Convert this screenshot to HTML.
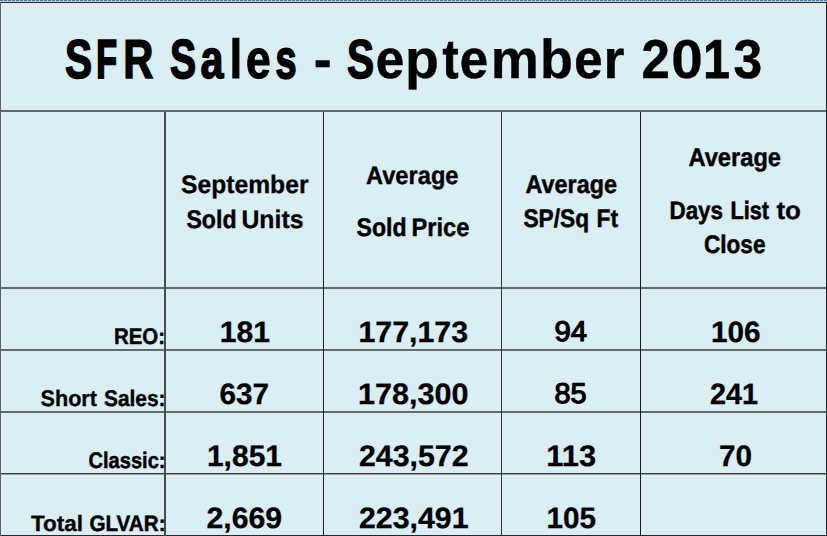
<!DOCTYPE html><html><head><meta charset="utf-8"><style>html,body{margin:0;padding:0;background:#daeef3;overflow:hidden}svg{display:block}text{font-family:"Liberation Sans",sans-serif;font-weight:bold;fill:#000;text-rendering:geometricPrecision}</style></head><body>
<svg width="827" height="536" viewBox="0 0 827 536">
<rect x="0" y="0" width="827" height="536" fill="#daeef3"/>
<rect x="0" y="0" width="827" height="1" fill="#c9d3dc"/>
<line x1="0" y1="0.5" x2="827" y2="0.5" stroke="#4a78a8" stroke-width="1" stroke-dasharray="3 1"/>
<rect x="0" y="1" width="827" height="1" fill="#c8c8c4"/>
<rect x="0" y="2" width="827" height="1" fill="#262a2c"/>
<rect x="0" y="110" width="827" height="2" fill="#5f6769"/>
<rect x="0" y="287" width="827" height="2" fill="#5f6769"/>
<rect x="0" y="349" width="827" height="2" fill="#626b6b"/>
<rect x="0" y="411" width="827" height="2" fill="#626b6b"/>
<rect x="0" y="473" width="827" height="1" fill="#3a3d3d"/>
<rect x="0" y="474" width="827" height="1" fill="#9aa4a6"/>
<rect x="0" y="535" width="827" height="1" fill="#23272a"/>
<rect x="164" y="112" width="2" height="424" fill="#454c4e"/>
<rect x="323" y="112" width="1" height="424" fill="#1e2224"/>
<rect x="501" y="112" width="1" height="424" fill="#2f3537"/>
<rect x="640" y="112" width="1" height="424" fill="#151819"/>
<rect x="0" y="2" width="1" height="534" fill="#5a6367"/>
<rect x="826" y="2" width="1" height="534" fill="#22282a"/>
<text x="64.94" y="78.30" font-size="54.84" stroke="#000" stroke-width="1.55"  textLength="27.14" lengthAdjust="spacingAndGlyphs">S</text>
<text x="96.35" y="78.30" font-size="54.84" stroke="#000" stroke-width="2.23"  textLength="20.73" lengthAdjust="spacingAndGlyphs">F</text>
<text x="123.37" y="78.30" font-size="54.84" stroke="#000" stroke-width="1.45"  textLength="30.13" lengthAdjust="spacingAndGlyphs">R</text>
<text x="169.97" y="78.30" font-size="54.84" stroke="#000" stroke-width="1.70"  textLength="26.11" lengthAdjust="spacingAndGlyphs">S</text>
<text x="200.50" y="78.30" font-size="54.84" stroke="#000" stroke-width="1.48"  textLength="23.00" lengthAdjust="spacingAndGlyphs">a</text>
<text x="229.74" y="78.30" font-size="54.84" stroke="#000" stroke-width="1.18"  textLength="12.34" lengthAdjust="spacingAndGlyphs">l</text>
<text x="245.92" y="78.30" font-size="54.84" stroke="#000" stroke-width="1.18"  textLength="24.67" lengthAdjust="spacingAndGlyphs">e</text>
<text x="275.46" y="78.30" font-size="54.84" stroke="#000" stroke-width="1.83"  textLength="21.05" lengthAdjust="spacingAndGlyphs">s</text>
<text x="313.73" y="78.30" font-size="54.84" stroke="#000" stroke-width="0.30"  textLength="18.01" lengthAdjust="spacingAndGlyphs">-</text>
<text x="346.93" y="78.30" font-size="54.84" stroke="#000" stroke-width="1.55"  textLength="27.11" lengthAdjust="spacingAndGlyphs">S</text>
<text x="375.79" y="78.30" font-size="54.84" stroke="#000" stroke-width="0.51"  textLength="28.43" lengthAdjust="spacingAndGlyphs">e</text>
<text x="404.90" y="78.30" font-size="54.84" stroke="#000" stroke-width="0.30"  textLength="33.86" lengthAdjust="spacingAndGlyphs">p</text>
<text x="442.47" y="78.30" font-size="54.84" stroke="#000" stroke-width="0.81"  textLength="16.03" lengthAdjust="spacingAndGlyphs">t</text>
<text x="459.81" y="78.30" font-size="54.84" stroke="#000" stroke-width="0.53"  textLength="28.32" lengthAdjust="spacingAndGlyphs">e</text>
<text x="490.70" y="78.30" font-size="54.84" stroke="#000" stroke-width="0.30"  textLength="48.13" lengthAdjust="spacingAndGlyphs">m</text>
<text x="539.95" y="78.30" font-size="54.84" stroke="#000" stroke-width="0.30"  textLength="32.93" lengthAdjust="spacingAndGlyphs">b</text>
<text x="574.33" y="78.30" font-size="54.84" stroke="#000" stroke-width="0.53"  textLength="28.29" lengthAdjust="spacingAndGlyphs">e</text>
<text x="603.57" y="78.30" font-size="54.84" stroke="#000" stroke-width="0.30"  textLength="21.03" lengthAdjust="spacingAndGlyphs">r</text>
<text x="641.38" y="78.30" font-size="54.84" stroke="#000" stroke-width="0.53"  textLength="28.29" lengthAdjust="spacingAndGlyphs">2</text>
<text x="671.20" y="78.30" font-size="54.84" stroke="#000" stroke-width="0.30"  textLength="31.52" lengthAdjust="spacingAndGlyphs">0</text>
<text x="703.16" y="78.30" font-size="54.84" stroke="#000" stroke-width="0.86"  textLength="26.45" lengthAdjust="spacingAndGlyphs">1</text>
<text x="733.45" y="78.30" font-size="54.84" stroke="#000" stroke-width="0.46"  textLength="28.71" lengthAdjust="spacingAndGlyphs">3</text>
<text x="180.99" y="192.50" font-size="25.32" stroke="#000" stroke-width="0.30"  textLength="127.51" lengthAdjust="spacingAndGlyphs">September</text>
<text x="186.45" y="227.90" font-size="25.40" stroke="#000" stroke-width="0.45"  textLength="50.10" lengthAdjust="spacingAndGlyphs">Sold</text>
<text x="241.44" y="227.90" font-size="25.40" stroke="#000" stroke-width="0.30"  textLength="62.08" lengthAdjust="spacingAndGlyphs">Units</text>
<text x="365.99" y="183.70" font-size="25.12" stroke="#000" stroke-width="0.39"  textLength="92.51" lengthAdjust="spacingAndGlyphs">Average</text>
<text x="356.48" y="236.30" font-size="25.57" stroke="#000" stroke-width="0.47"  textLength="50.07" lengthAdjust="spacingAndGlyphs">Sold</text>
<text x="411.44" y="236.30" font-size="25.57" stroke="#000" stroke-width="0.41"  textLength="58.08" lengthAdjust="spacingAndGlyphs">Price</text>
<text x="525.49" y="192.90" font-size="25.40" stroke="#000" stroke-width="0.45"  textLength="91.52" lengthAdjust="spacingAndGlyphs">Average</text>
<text x="523.48" y="227.30" font-size="25.40" stroke="#000" stroke-width="0.50"  textLength="65.56" lengthAdjust="spacingAndGlyphs">SP/Sq</text>
<text x="596.42" y="227.30" font-size="25.40" stroke="#000" stroke-width="0.48"  textLength="21.60" lengthAdjust="spacingAndGlyphs">Ft</text>
<text x="688.49" y="166.30" font-size="25.57" stroke="#000" stroke-width="0.44"  textLength="92.52" lengthAdjust="spacingAndGlyphs">Average</text>
<text x="669.44" y="218.90" font-size="25.12" stroke="#000" stroke-width="0.49"  textLength="53.62" lengthAdjust="spacingAndGlyphs">Days</text>
<text x="730.44" y="218.90" font-size="25.12" stroke="#000" stroke-width="0.57"  textLength="38.55" lengthAdjust="spacingAndGlyphs">List</text>
<text x="776.48" y="218.90" font-size="25.12" stroke="#000" stroke-width="0.30"  textLength="24.53" lengthAdjust="spacingAndGlyphs">to</text>
<text x="703.99" y="253.30" font-size="25.40" stroke="#000" stroke-width="0.50"  textLength="61.53" lengthAdjust="spacingAndGlyphs">Close</text>
<text x="113.94" y="344.30" font-size="22.46" stroke="#000" stroke-width="0.43"  textLength="51.15" lengthAdjust="spacingAndGlyphs">REO:</text>
<text x="40.49" y="406.30" font-size="22.52" stroke="#000" stroke-width="0.32"  textLength="56.51" lengthAdjust="spacingAndGlyphs">Short</text>
<text x="103.98" y="406.30" font-size="22.52" stroke="#000" stroke-width="0.39"  textLength="61.61" lengthAdjust="spacingAndGlyphs">Sales:</text>
<text x="88.46" y="468.30" font-size="22.52" stroke="#000" stroke-width="0.47"  textLength="77.10" lengthAdjust="spacingAndGlyphs">Classic:</text>
<text x="31.00" y="530.90" font-size="22.24" stroke="#000" stroke-width="0.30"  textLength="52.05" lengthAdjust="spacingAndGlyphs">Total</text>
<text x="89.47" y="530.90" font-size="22.24" stroke="#000" stroke-width="0.47"  textLength="76.09" lengthAdjust="spacingAndGlyphs">GLVAR:</text>
<text x="219.86" y="341.70" font-size="29.39" stroke="#000" stroke-width="0.30"  textLength="50.16" lengthAdjust="spacingAndGlyphs">181</text>
<text x="358.45" y="341.70" font-size="29.39" stroke="#000" stroke-width="0.30"  textLength="109.58" lengthAdjust="spacingAndGlyphs">177,173</text>
<text x="554.45" y="341.40" font-size="28.47" style="font-weight:normal" stroke="#000" stroke-width="1.20"  textLength="32.55" lengthAdjust="spacingAndGlyphs">94</text>
<text x="710.92" y="341.70" font-size="29.39" stroke="#000" stroke-width="0.30"  textLength="49.62" lengthAdjust="spacingAndGlyphs">106</text>
<text x="219.47" y="403.70" font-size="29.39" stroke="#000" stroke-width="0.30"  textLength="49.58" lengthAdjust="spacingAndGlyphs">637</text>
<text x="357.97" y="403.70" font-size="29.39" stroke="#000" stroke-width="0.30"  textLength="110.56" lengthAdjust="spacingAndGlyphs">178,300</text>
<text x="554.46" y="403.40" font-size="28.47" style="font-weight:normal" stroke="#000" stroke-width="1.20"  textLength="32.05" lengthAdjust="spacingAndGlyphs">85</text>
<text x="709.98" y="403.70" font-size="29.39" stroke="#000" stroke-width="0.30"  textLength="48.07" lengthAdjust="spacingAndGlyphs">241</text>
<text x="206.93" y="465.70" font-size="29.68" stroke="#000" stroke-width="0.30"  textLength="75.09" lengthAdjust="spacingAndGlyphs">1,851</text>
<text x="358.98" y="465.70" font-size="29.68" stroke="#000" stroke-width="0.30"  textLength="109.53" lengthAdjust="spacingAndGlyphs">243,572</text>
<text x="546.39" y="465.70" font-size="29.68" stroke="#000" stroke-width="0.30"  textLength="49.70" lengthAdjust="spacingAndGlyphs">113</text>
<text x="718.93" y="465.70" font-size="29.68" stroke="#000" stroke-width="0.30"  textLength="33.14" lengthAdjust="spacingAndGlyphs">70</text>
<text x="206.46" y="527.70" font-size="29.39" stroke="#000" stroke-width="0.30"  textLength="75.58" lengthAdjust="spacingAndGlyphs">2,669</text>
<text x="358.98" y="527.70" font-size="29.39" stroke="#000" stroke-width="0.30"  textLength="109.54" lengthAdjust="spacingAndGlyphs">223,491</text>
<text x="546.40" y="527.70" font-size="29.39" stroke="#000" stroke-width="0.30"  textLength="49.62" lengthAdjust="spacingAndGlyphs">105</text>
</svg></body></html>
